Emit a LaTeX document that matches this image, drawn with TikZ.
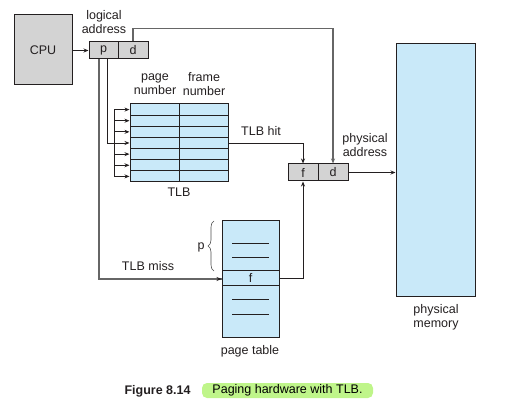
\documentclass[tikz,border=0pt]{standalone}
\usepackage{fontspec}
\setmainfont{Liberation Sans}
\usetikzlibrary{arrows.meta,decorations.pathreplacing}
\definecolor{regblue}{HTML}{C9E9F9}
\definecolor{reggray}{HTML}{D3D3D3}
\definecolor{inkcol}{HTML}{231F20}
\definecolor{hilite}{HTML}{BFF58A}
\tikzset{
  wire/.style={line width=0.9pt, draw=inkcol},
  graywire/.style={line width=1.4pt, draw=black!60},
  tip/.style={-{Stealth[length=5pt,width=4pt]}},
  cell/.style={draw=inkcol, line width=1pt, inner sep=0pt, text=inkcol},
  txt/.style={text=inkcol, align=center, inner sep=0pt},
}
\begin{document}
\begin{tikzpicture}[x=1pt,y=-1pt]
                        \useasboundingbox (0,0) rectangle (511,403);
                        {\fontsize{12.5}{14}\selectfont

                        % CPU and logical address
                        \node [cell, fill=reggray, minimum width=58pt, minimum height=70pt] (cpu) at (43,50) {CPU};%
                        \node [cell, fill=reggray, minimum width=29pt, minimum height=17pt] (lp) at (103.5,50.5) {p};%
                        \node [cell, fill=reggray, minimum width=30pt, minimum height=17pt] (ld) at (133,50.5) {d};%
                        \node [txt] (logaddr) at (104,22) {logical\\address};%
                        \draw [wire, tip] (cpu.east |- lp.west) -- (lp.west);%

                        % TLB rows
                        \foreach \i in {1,...,7} {
                          \node [cell, fill=regblue, minimum width=49pt, minimum height=11.14pt] (tp\i) at (154.5,{104+11.14*(\i-0.5)}) {};%
                          \node [cell, fill=regblue, minimum width=49pt, minimum height=11.14pt] (tf\i) at (203.5,{104+11.14*(\i-0.5)}) {};%
                        }
                        \node [txt] (tlbpage) at (155,84.5) {page\\number};%
                        \node [txt] (tlbframe) at (204,84.5) {frame\\number};%
                        \node [txt] (tlblabel) at (179,192) {TLB};%

                        % Bus into TLB rows
                        \coordinate (bus) at (114,0);%
                        \draw [wire] (tp1.west -| bus) -- (tp7.west -| bus);%
                        \foreach \i in {1,...,7} {
                          \draw [wire, tip] (tp\i.west -| bus) -- (tp\i.west);%
                        }
                        \draw [wire] ([xshift=3.5pt]lp.south) |- (tp4.west -| bus);%

                        % Physical address
                        \node [cell, fill=reggray, minimum width=30pt, minimum height=17pt] (pf) at (303,172.5) {f};%
                        \node [cell, fill=reggray, minimum width=30pt, minimum height=17pt] (pd) at (333,172.5) {d};%
                        \node [txt] (phyaddr) at (365,145) {physical\\address};%

                        % Physical memory
                        \node [cell, fill=regblue, minimum width=79pt, minimum height=252pt] (mem) at (435.5,170) {};%
                        \node [txt] (memlabel) at (436,317.5) {physical\\memory};%

                        % Page table
                        \node [cell, fill=regblue, minimum width=57pt, minimum height=50pt] (ptup) at (250.5,246) {};%
                        \node [cell, fill=regblue, minimum width=57pt, minimum height=14pt] (ptf) at (250.5,278) {f};%
                        \node [cell, fill=regblue, minimum width=57pt, minimum height=52pt] (ptlow) at (250.5,311) {};%
                        \foreach \y in {243,257,299,314} {
                          \draw [line width=0.9pt, draw=inkcol] (232,\y) -- (269,\y);%
                        }
                        \node [txt] (ptlabel) at (250,351) {page table};%
                        \draw [line width=0.6pt, draw=black!70, decorate, decoration={brace, amplitude=6pt}] (214,271) -- (214,221);%
                        \node [txt] (pidx) at (201,247) {p};%

                        % Connectors
                        \draw [graywire, tip] (ld.north) -- ++(0,-13) -| (pd.north);%
                        \draw [graywire] ([xshift=-4.5pt]lp.south) |- ([yshift=-1pt]ptf.west);%
                        \draw [wire, tip] ([xshift=-4pt,yshift=-1pt]ptf.west) -- ([yshift=-1pt]ptf.west);%
                        \draw [wire, tip] (tf4.east) -| (pf.north);%
                        \node [txt] (tlbhit) at (261,131) {TLB hit};%
                        \node [txt] (tlbmiss) at (148,266) {TLB miss};%
                        \draw [wire, tip] (ptf.east) -| (pf.south);%
                        \draw [wire, tip] (pd.east) -- (mem.west |- pd.east);%

                        % Caption
                        \node [fill=hilite, rounded corners=5pt, minimum width=171pt, minimum height=15pt, inner sep=0pt] (caption) at (287.5,390.5) {Paging hardware with TLB.};%
                        \node [txt, font=\bfseries] (fignum) at (157.5,391) {Figure 8.14};%
                        }
\end{tikzpicture}
\end{document}
